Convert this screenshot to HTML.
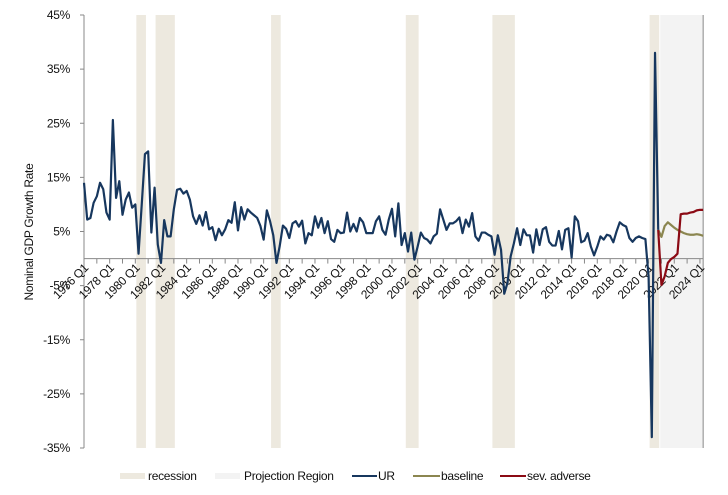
<!DOCTYPE html>
<html><head><meta charset="utf-8"><style>
html,body{margin:0;padding:0;background:#fff;}
svg{display:block;font-family:"Liberation Sans",sans-serif;}
text{letter-spacing:-0.3px;}
</style></head><body>
<svg id="chart" width="728" height="495" viewBox="0 0 728 495">
<g id="bands"></g>
<g id="axes"></g>
<g id="series"></g>
<g id="legend">
  <rect x="120" y="473" width="25" height="6" fill="#ede9df"/>
  <text x="148" y="480" font-size="12" fill="#111">recession</text>
  <rect x="215" y="473" width="25" height="6" fill="#f3f3f3"/>
  <text x="244" y="480" font-size="12" fill="#111">Projection Region</text>
  <line x1="352" y1="476" x2="377" y2="476" stroke="#17375e" stroke-width="2"/>
  <text x="378" y="480" font-size="12" fill="#111">UR</text>
  <line x1="413" y1="476" x2="440" y2="476" stroke="#8b8650" stroke-width="2"/>
  <text x="441" y="480" font-size="12" fill="#111">baseline</text>
  <line x1="500" y1="476" x2="526" y2="476" stroke="#8b0a14" stroke-width="2"/>
  <text x="527" y="480" font-size="12" fill="#111">sev. adverse</text>
</g>
<text transform="translate(33,232) rotate(-90)" text-anchor="middle" font-size="12" fill="#111">Nominal GDP Growth Rate</text>
</svg>
<script>
// quarter index 0 = 1976 Q1
const urValues = [14.0,7.2,7.5,10.3,11.5,14.0,12.8,8.5,7.2,25.6,11.2,14.3,8.1,10.9,12.2,9.4,10.0,0.9,10.0,19.3,19.8,4.8,13.1,2.6,-0.8,7.1,4.1,4.1,9.1,12.7,12.9,12.0,12.5,10.9,7.8,6.4,8.0,6.1,8.6,5.4,5.8,3.4,5.5,4.3,5.4,7.1,6.6,10.4,5.2,9.5,7.2,9.1,8.5,8.0,7.5,6.0,3.5,8.9,6.9,4.3,-0.8,2.3,6.1,5.5,3.8,6.5,6.9,5.9,7.0,2.8,4.7,4.3,7.8,5.7,7.5,4.7,6.9,3.6,3.1,5.3,4.7,4.8,8.5,5.0,6.4,5.0,7.5,6.7,4.7,4.7,4.7,6.9,7.8,5.3,4.4,7.2,9.2,4.1,10.2,2.5,4.7,1.3,4.8,-0.2,2.2,4.8,3.8,3.5,2.8,4.1,4.6,9.1,7.2,5.3,6.5,6.5,6.9,7.6,4.7,7.2,5.9,8.4,4.1,3.3,4.8,4.8,4.4,4.1,0.7,4.3,1.6,-6.5,-4.5,0.4,2.8,5.6,2.5,5.4,4.3,4.3,1.1,5.4,2.5,5.4,5.8,3.1,2.4,2.4,5.1,1.7,5.3,5.6,0.2,7.8,6.9,3.0,3.3,4.7,2.2,0.6,2.2,4.1,3.5,4.4,4.2,3.0,5.0,6.7,6.2,5.9,3.8,3.1,3.8,4.1,3.8,3.6,-3.4,-33.0,38.0,5.3];
const projStart = 179;
const baselineValues = [5.3,4.0,6.0,6.7,6.2,5.7,5.3,5.0,4.7,4.5,4.4,4.4,4.5,4.4,4.2];
const sevAdverseValues = [5.3,-4.9,-3.3,-0.8,-0.1,0.3,0.9,8.2,8.3,8.3,8.5,8.6,8.9,9.0,9.0];
const recessions = [[16,18],[22,27],[58,60],[100,103],[127,133],[176,178]];
const yTicks = [45,35,25,15,5,-5,-15,-25,-35];
const xLabelYears = [1976,1978,1980,1982,1984,1986,1988,1990,1992,1994,1996,1998,2000,2002,2004,2006,2008,2010,2012,2014,2016,2018,2020,2022,2024];

const NS='http://www.w3.org/2000/svg';
const X0=84, DX=3.208, NQ=193;
const Y0=15, YSCALE=(448-15)/80;
const xs = i => X0 + i*DX;
const ys = v => Y0 + (45 - v)*YSCALE;
function mk(tag, attrs, parent){const e=document.createElementNS(NS,tag);for(const k in attrs)e.setAttribute(k,attrs[k]);parent.appendChild(e);return e;}

const bands=document.getElementById('bands');
recessions.forEach(r=>{
  const e=mk('rect',{x:xs(r[0])+1,y:Y0,width:xs(r[1]+1)-xs(r[0]),height:448-Y0,fill:'#ede9df'},bands);
  
  
});
const pr=mk('rect',{x:xs(projStart)+2,y:Y0,width:xs(NQ)-xs(projStart)-2,height:448-Y0,fill:'#f3f3f3'},bands);



const axes=document.getElementById('axes');
const ya=mk('line',{x1:X0,y1:Y0,x2:X0,y2:448,stroke:'#888','stroke-width':1},axes);


const rb=mk('line',{x1:xs(NQ),y1:Y0,x2:xs(NQ),y2:448,stroke:'#888','stroke-width':1},axes);


yTicks.forEach(t=>{
  const tk=mk('line',{x1:X0-4,y1:ys(t),x2:X0,y2:ys(t),stroke:'#888'},axes);
  
  
  const tx=mk('text',{x:70,y:ys(t)+4,'text-anchor':'end','font-size':12,fill:'#111'},axes);
  tx.textContent=t+'%';
  
  
});
const za=mk('line',{x1:X0,y1:ys(0),x2:xs(NQ),y2:ys(0),stroke:'#888'},axes);


for(let i=0;i<=NQ;i+=4){
  const tk=mk('line',{x1:xs(i),y1:ys(0),x2:xs(i),y2:ys(0)+5,stroke:'#888'},axes);
  
  
}
xLabelYears.forEach(yr=>{
  const i=(yr-1976)*4;
  const tx=mk('text',{transform:`translate(${xs(i)+5},${ys(0)+10}) rotate(-45)`,'text-anchor':'end','font-size':12,fill:'#111'},axes);
  tx.textContent=yr+' Q1';
  
  
});

const series=document.getElementById('series');
function line(vals, start, color, name){
  const d=vals.map((v,k)=>(k?'L':'M')+xs(start+k).toFixed(2)+','+ys(v).toFixed(2)).join(' ');
  const p=mk('path',{d:d,fill:'none',stroke:color,'stroke-width':2.2,'stroke-linejoin':'round'},series);
  
  
}
line(baselineValues, projStart, '#8b8650', 'baseline-line');
line(sevAdverseValues, projStart, '#8b0a14', 'sev-adverse-line');
line(urValues, 0, '#17375e', 'ur-line');
</script>
</body></html>
